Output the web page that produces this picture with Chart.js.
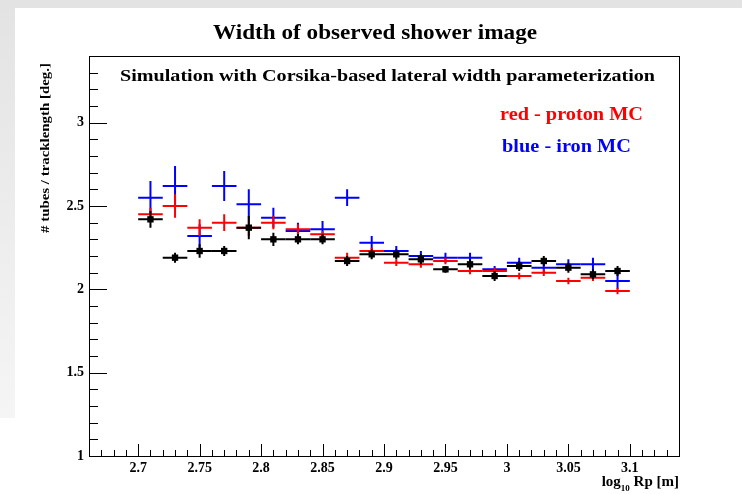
<!DOCTYPE html>
<html>
<head>
<meta charset="utf-8">
<script src="https://cdn.jsdelivr.net/npm/chart.js@4.4.1/dist/chart.umd.min.js"></script>
<style>
  html, body { margin: 0; padding: 0; background: #ffffff; }
  #wrap { position: relative; width: 742px; height: 494px; overflow: hidden; }
  #topband { position: absolute; left: 0; top: 0; width: 742px; height: 8px; background: #e3e3e3; }
  #leftband { position: absolute; left: 0; top: 0; width: 15px; height: 418px;
              background: linear-gradient(#e3e3e3, #f5f5f5); }
  canvas { position: absolute; left: 0; top: 0; }
</style>
</head>
<body>
<div id="wrap">
  <div id="topband"></div>
  <div id="leftband"></div>
  <canvas id="c" width="742" height="494"></canvas>
</div>
<script>
// ---- data ----
const rpBins    = [2.71, 2.73, 2.75, 2.77, 2.79, 2.81, 2.83, 2.85, 2.87, 2.89,
                   2.91, 2.93, 2.95, 2.97, 2.99, 3.01, 3.03, 3.05, 3.07, 3.09];
const binHalfWidth = 0.01;

const dataY     = [2.42, 2.19, 2.23, 2.23, 2.37, 2.30, 2.30, 2.30, 2.17, 2.21,
                   2.21, 2.18, 2.12, 2.15, 2.08, 2.14, 2.17, 2.13, 2.09, 2.11];
const dataErr   = [0.05, 0.03, 0.04, 0.03, 0.07, 0.04, 0.03, 0.03, 0.03, 0.03,
                   0.03, 0.03, 0.02, 0.03, 0.03, 0.03, 0.03, 0.03, 0.03, 0.03];

const protonY   = [2.45, 2.50, 2.37, 2.40, 2.37, 2.40, 2.36, 2.33, 2.19, 2.23,
                   2.16, 2.15, 2.17, 2.11, 2.11, 2.08, 2.10, 2.05, 2.07, 1.99];
const protonErr = [0.04, 0.07, 0.05, 0.05, 0.05, 0.04, 0.03, 0.02, 0.03, 0.02,
                   0.02, 0.02, 0.02, 0.02, 0.02, 0.02, 0.02, 0.02, 0.02, 0.02];

const ironY     = [2.55, 2.62, 2.32, 2.62, 2.51, 2.43, 2.35, 2.36, 2.55, 2.28,
                   2.23, 2.20, 2.19, 2.19, 2.12, 2.16, 2.13, 2.15, 2.15, 2.05];
const ironErr   = [0.10, 0.12, 0.07, 0.09, 0.09, 0.06, 0.05, 0.05, 0.05, 0.04,
                   0.03, 0.03, 0.03, 0.03, 0.02, 0.03, 0.03, 0.03, 0.04, 0.05];

const xRange = [2.66, 3.14];
const yRange = [1.0, 3.4];

const titleText    = 'Width of observed shower image';
const subtitleText = 'Simulation with Corsika-based lateral width parameterization';
const protonLabel  = 'red - proton MC';
const ironLabel    = 'blue - iron MC';
const yAxisTitle   = '# tubes / tracklength [deg.]';

// ---- build datasets ----
function pts(ys, errs) {
  return rpBins.map((x, i) => ({ x: x, y: ys[i], ex: binHalfWidth, ey: errs[i] }));
}

const SERIF = '"Liberation Serif", "DejaVu Serif", serif';

// draw text with given font size, stretched horizontally to a target width
function fitText(ctx, text, left, cy, size, width, color) {
  ctx.save();
  ctx.font = 'bold ' + size + 'px ' + SERIF;
  ctx.fillStyle = color;
  ctx.textAlign = 'left';
  ctx.textBaseline = 'middle';
  const w = ctx.measureText(text).width;
  ctx.translate(left, cy);
  ctx.scale(width / w, 1);
  ctx.fillText(text, 0, 0);
  ctx.restore();
}

const errorBarPlugin = {
  id: 'errorBars',
  beforeDatasetDraw(chart, args) {
    const ds = chart.data.datasets[args.index];
    const xs = chart.scales.x, ys = chart.scales.y;
    const ctx = chart.ctx;
    ctx.save();
    ctx.beginPath();
    ctx.rect(chart.chartArea.left, chart.chartArea.top,
             chart.chartArea.right - chart.chartArea.left,
             chart.chartArea.bottom - chart.chartArea.top);
    ctx.clip();
    ctx.strokeStyle = ds.barColor;
    ctx.lineWidth = 2;
    ctx.lineCap = 'butt';
    ds.data.forEach(p => {
      const px = xs.getPixelForValue(p.x);
      const py = ys.getPixelForValue(p.y);
      ctx.beginPath();
      ctx.moveTo(xs.getPixelForValue(p.x - p.ex), py);
      ctx.lineTo(xs.getPixelForValue(p.x + p.ex), py);
      ctx.moveTo(px, ys.getPixelForValue(p.y - p.ey));
      ctx.lineTo(px, ys.getPixelForValue(p.y + p.ey));
      ctx.stroke();
    });
    ctx.restore();
  }
};

function isMajor(v, step) {
  const r = v / step;
  return Math.abs(r - Math.round(r)) < 1e-6;
}

const framePlugin = {
  id: 'frameAndText',
  afterDraw(chart) {
    const ctx = chart.ctx;
    const a = chart.chartArea;
    const xs = chart.scales.x, ys = chart.scales.y;
    ctx.save();
    ctx.strokeStyle = '#000';
    ctx.lineWidth = 1;
    // frame
    ctx.strokeRect(Math.round(a.left) + 0.5, Math.round(a.top) + 0.5,
                   Math.round(a.right - a.left), Math.round(a.bottom - a.top));
    // inward ticks
    ctx.beginPath();
    xs.ticks.forEach(t => {
      const px = Math.round(xs.getPixelForValue(t.value)) + 0.5;
      const len = isMajor(t.value, 0.05) ? 12 : 6;
      ctx.moveTo(px, a.bottom);
      ctx.lineTo(px, a.bottom - len);
    });
    ys.ticks.forEach(t => {
      const py = Math.round(ys.getPixelForValue(t.value)) + 0.5;
      const len = isMajor(t.value, 0.5) ? 18 : 9;
      ctx.moveTo(a.left, py);
      ctx.lineTo(a.left + len, py);
    });
    ctx.stroke();

    // texts
    fitText(ctx, titleText, 213, 33, 22, 324, '#000');
    fitText(ctx, subtitleText, 120, 77, 17, 535, '#000');
    fitText(ctx, protonLabel, 500, 115, 18, 143, '#ff0000');
    fitText(ctx, ironLabel, 502, 147, 18, 129, '#0000ff');

    // y axis title (rotated, aligned to top)
    ctx.save();
    ctx.translate(46, 233);
    ctx.rotate(-Math.PI / 2);
    fitText(ctx, yAxisTitle, 0, 0, 13.5, 170, '#000');
    ctx.restore();

    // x axis title: log_10 Rp [m], right-aligned to frame
    ctx.fillStyle = '#000';
    ctx.textBaseline = 'alphabetic';
    ctx.textAlign = 'left';
    const big = 'bold 15px ' + SERIF, small = 'bold 9px ' + SERIF;
    ctx.font = big;
    const w1 = ctx.measureText('log').width;
    const w3 = ctx.measureText(' Rp [m]').width;
    ctx.font = small;
    const w2 = ctx.measureText('10').width;
    let x0 = a.right - (w1 + w2 + w3);
    const base = 486;
    ctx.font = big;
    ctx.fillText('log', x0, base);
    ctx.font = small;
    ctx.fillText('10', x0 + w1, base + 5);
    ctx.font = big;
    ctx.fillText(' Rp [m]', x0 + w1 + w2, base);
    ctx.restore();
  }
};

const ctx = document.getElementById('c').getContext('2d');
new Chart(ctx, {
  type: 'scatter',
  data: {
    datasets: [
      { label: 'data', data: pts(dataY, dataErr), barColor: '#000000',
        pointStyle: 'rect', pointRadius: 4.5, pointHoverRadius: 4.5,
        backgroundColor: '#000000', borderColor: '#000000', borderWidth: 0 },
      { label: 'proton MC', data: pts(protonY, protonErr), barColor: '#ff0000',
        pointRadius: 0, pointHoverRadius: 0, backgroundColor: '#ff0000', borderColor: '#ff0000' },
      { label: 'iron MC', data: pts(ironY, ironErr), barColor: '#0000ff',
        pointRadius: 0, pointHoverRadius: 0, backgroundColor: '#0000ff', borderColor: '#0000ff' }
    ]
  },
  options: {
    responsive: false,
    animation: false,
    events: [],
    layout: { padding: { left: 0, right: 63, top: 56, bottom: 0 } },
    plugins: {
      legend: { display: false },
      tooltip: { enabled: false },
      title: { display: false }
    },
    scales: {
      x: {
        type: 'linear', min: xRange[0], max: xRange[1],
        grid: { display: false, drawTicks: false },
        border: { display: false },
        afterFit(s) { s.height = 38; },
        ticks: {
          stepSize: 0.01, autoSkip: false, maxRotation: 0, minRotation: 0,
          padding: 4, color: '#000',
          font: { family: SERIF, size: 14, weight: 'bold' },
          callback: v => isMajor(v, 0.05) ? String(Number(v.toFixed(2))) : ''
        }
      },
      y: {
        type: 'linear', min: yRange[0], max: yRange[1],
        grid: { display: false, drawTicks: false },
        border: { display: false },
        afterFit(s) { s.width = 89; },
        ticks: {
          stepSize: 0.1, autoSkip: false, padding: 5, color: '#000',
          font: { family: SERIF, size: 14, weight: 'bold' },
          callback: v => isMajor(v, 0.5) ? String(Number(v.toFixed(1))) : ''
        }
      }
    }
  },
  plugins: [errorBarPlugin, framePlugin]
});
</script>
</body>
</html>
